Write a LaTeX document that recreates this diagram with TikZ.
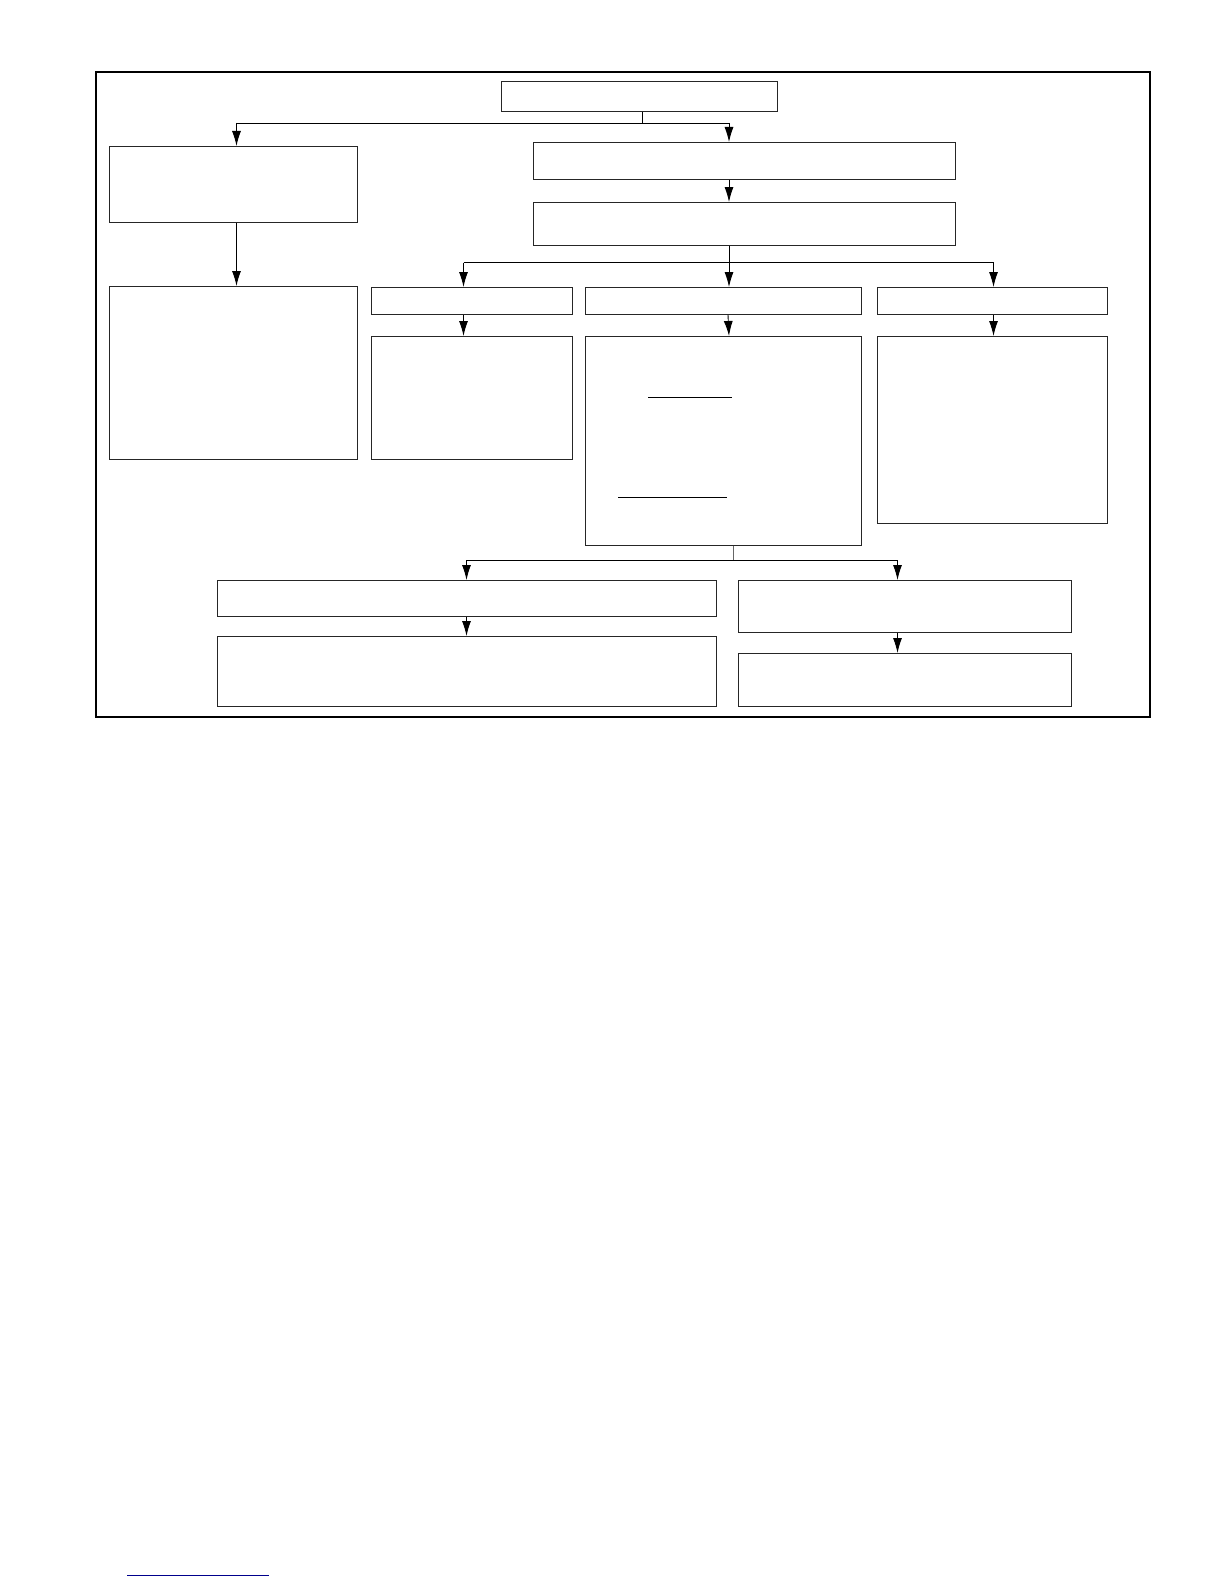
\documentclass[tikz,border=0pt]{standalone}
\usepackage{tikz}
\usetikzlibrary{arrows.meta}
\usetikzlibrary{calc}
\tikzset{>={Latex[length=15pt,width=9pt]}}
\tikzset{
  box/.style={draw=black!85,line width=0.9pt,inner sep=0pt,anchor=north west},
  link/.style={->,line width=0.9pt}
}

\begin{document}
\begin{tikzpicture}[x=1pt,y=-1pt]
    \useasboundingbox (0,0) rectangle (1224,1584);
    \draw[line width=2pt] (96,72) rectangle (1150,717);
    % top of the chart
    \node[box,minimum width=276pt,minimum height=30pt] (head) at (501,81) {};
    \node[box,minimum width=248pt,minimum height=76pt] (lefttop) at (109,146) {};
    \node[box,minimum width=248pt,minimum height=173pt] (leftlow) at (109,286) {};
    \node[box,minimum width=422pt,minimum height=37pt] (midone) at (533,142) {};
    \node[box,minimum width=422pt,minimum height=43pt] (midtwo) at (533,202) {};
    % three columns
    \node[box,minimum width=201pt,minimum height=27pt] (colAhead) at (370.5,287) {};
    \node[box,minimum width=201pt,minimum height=123pt] (colAbody) at (370.5,336) {};
    \node[box,minimum width=276pt,minimum height=27pt] (colBhead) at (584.5,287) {};
    \node[box,minimum width=276pt,minimum height=209pt] (colBbody) at (584.5,336) {};
    \node[box,minimum width=230pt,minimum height=27pt] (colChead) at (876.5,287) {};
    \node[box,minimum width=230pt,minimum height=187pt] (colCbody) at (877,336) {};
    % bottom row
    \node[box,minimum width=499pt,minimum height=36pt] (lowAhead) at (217,580) {};
    \node[box,minimum width=499pt,minimum height=70pt] (lowAbody) at (217,636) {};
    \node[box,minimum width=333pt,minimum height=52pt] (lowBhead) at (738,580) {};
    \node[box,minimum width=333pt,minimum height=53pt] (lowBbody) at (738,653) {};
    % where the arrows drop
    \coordinate (xleft) at (236.5,0);
    \coordinate (xmid) at (729,0);
    \coordinate (xA) at (463.5,0);
    \coordinate (xC) at (993.5,0);
    \coordinate (xlowA) at (466.5,0);
    \coordinate (xlowB) at (897.5,0);
    \coordinate (barone) at (0,123);
    \coordinate (bartwo) at (0,262.5);
    \coordinate (barthree) at (0,560);
    % connectors
    \draw[line width=0.9pt] (head.south -| 642,0) -- (barone -| 642,0);
    \draw[line width=0.9pt] (barone -| xleft) -- (barone -| xmid);
    \draw[link] (barone -| xleft) -- (lefttop.north -| xleft);
    \draw[link] (barone -| xmid) -- (midone.north -| xmid);
    \draw[link] (lefttop.south -| xleft) -- (leftlow.north -| xleft);
    \draw[link] (midone.south -| xmid) -- (midtwo.north -| xmid);
    \draw[line width=0.9pt] (midtwo.south -| xmid) -- (bartwo -| xmid);
    \draw[line width=0.9pt] (bartwo -| xA) -- (bartwo -| xC);
    \draw[link] (bartwo -| xA) -- (colAhead.north -| xA);
    \draw[link] (bartwo -| xmid) -- (colBhead.north -| xmid);
    \draw[link] (bartwo -| xC) -- (colChead.north -| xC);
    \draw[link] (colAhead.south -| xA) -- (colAbody.north -| xA);
    \draw[link] (colBhead.south -| 728,0) -- (colBbody.north -| xmid);
    \draw[link] (colChead.south -| xC) -- (colCbody.north -| xC);
    \draw[black!60,line width=0.6pt] (colBbody.south -| 733,0) -- (barthree -| 733,0);
    \draw[line width=0.9pt] (barthree -| xlowA) -- (barthree -| xlowB);
    \draw[link] (barthree -| xlowA) -- (lowAhead.north -| xlowA);
    \draw[link] (barthree -| xlowB) -- (lowBhead.north -| xlowB);
    \draw[link] (lowAhead.south -| xlowA) -- (lowAbody.north -| xlowA);
    \draw[link] (lowBhead.south -| xlowB) -- (lowBbody.north -| xlowB);
    % rules inside the middle column
    \draw[line width=0.9pt] (648,397) -- (732,397);
    \draw[line width=0.9pt] (618,497) -- (727,497);
    % link rule at the foot of the page
    \draw[blue!55!black,line width=0.9pt] (127,1575) -- (269,1575);
\end{tikzpicture}
\end{document}
